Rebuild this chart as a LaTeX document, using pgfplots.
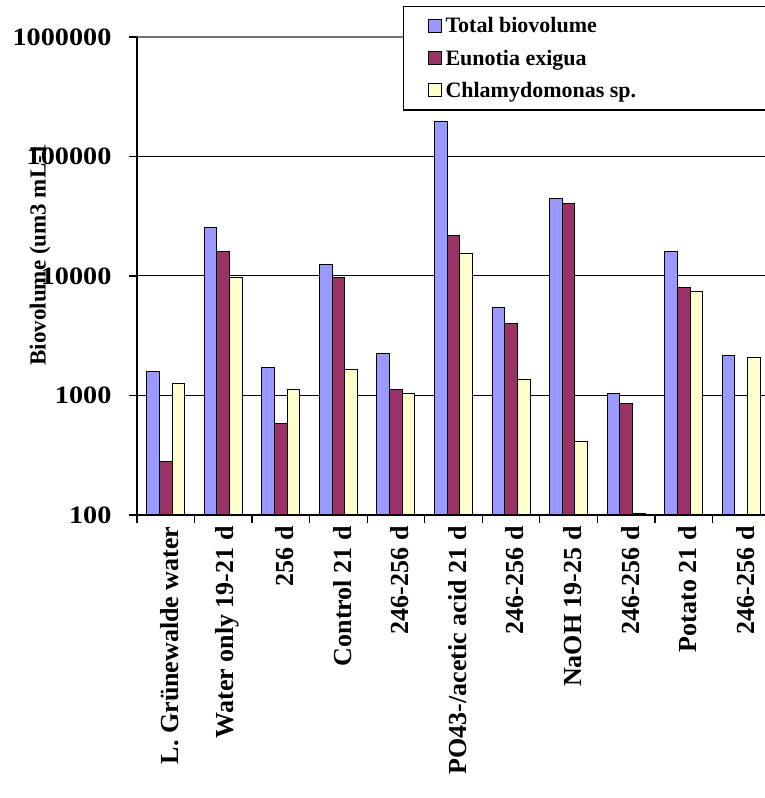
\documentclass[border=0pt]{standalone}
\usepackage{pgfplots}
\pgfplotsset{compat=1.18}
\usepackage{fontspec}
\setmainfont{Liberation Serif}
\definecolor{cTot}{HTML}{9999FF}
\definecolor{cEun}{HTML}{993366}
\definecolor{cChl}{HTML}{FFFFCC}
\begin{document}
\begin{tikzpicture}[x=1pt,y=1pt]
\useasboundingbox (-137,-283) rectangle (628,515);
\clip (-137,-283) rectangle (628,515);
\begin{axis}[
  axis on top,
  at={(0,0)}, anchor=south west,
  scale only axis, width=633pt, height=478pt,
  ymode=log, ymin=100, ymax=1000000,
  xmin=-0.5, xmax=10.5,
  ybar=0pt, bar width=0.22,
  ytick={100,1000,10000,100000,1000000},
  yticklabels={100,1000,10000,100000,1000000},
  yminorticks=false,
  xtick={-0.5,0.5,...,10.5},
  x tick label as interval,
  xticklabels={L. Grünewalde water, Water only 19-21 d, 256 d, Control 21 d, 246-256 d, PO43-/acetic acid 21 d, 246-256 d, NaOH 19-25 d, 246-256 d, Potato 21 d, 246-256 d},
  xticklabel style={rotate=90, anchor=east, font=\fontsize{26}{30}\selectfont\bfseries, yshift=-4pt},
  yticklabel style={font=\fontsize{25}{30}\selectfont\bfseries, xscale=1.13, xshift=-12pt},
  /pgf/number format/assume math mode=true,
  tick align=outside, major tick length=8pt,
  tick style={black, line width=1.3pt},
  axis x line*=bottom, axis y line*=left,
  axis line style={black, line width=1.6pt, -},
  ylabel={Biovolume (um3 mL-1},
  ylabel style={at={(axis description cs:-0.153,0.544)}, anchor=center, font=\fontsize{23}{28}\selectfont\bfseries},
  legend image code/.code={\path[draw=none,fill=none] (0pt,0pt) -- (34pt,0pt);\draw[#1, line width=1pt] (19pt,-6.5pt) rectangle (32pt,6.5pt);},
  legend cell align=left,
  legend style={at={(0.42,1.065)}, anchor=north west, draw=black, line width=1.3pt, fill=white,
    font=\fontsize{22}{26}\selectfont\bfseries, inner xsep=6pt, inner ysep=9pt, row sep=11.5pt,
    /tikz/every odd column/.style={column sep=0pt}},
]
\pgfplotsinvokeforeach{1000,10000,100000}{
  \draw[black, line width=1pt] (axis cs:-0.5,#1) -- (axis cs:10.5,#1);
}
\draw[black!55, line width=1.4pt] (axis cs:-0.5,1000000) -- (axis cs:10.5,1000000);
\addplot[fill=cTot, draw=black, line width=1pt] coordinates {
 (0,1580) (1,25700) (2,1730) (3,12400) (4,2240) (5,198000) (6,5430) (7,44100) (8,1036) (9,15960) (10,2170)};
\addplot[fill=cEun, draw=black, line width=1pt] coordinates {
 (0,279) (1,15960) (2,585) (3,9800) (4,1112) (5,22000) (6,4020) (7,40800) (8,860) (9,7980)};
\addplot[fill=cChl, draw=black, line width=1pt] coordinates {
 (0,1256) (1,9800) (2,1119) (3,1657) (4,1036) (5,15490) (6,1356) (7,414) (8,103) (9,7450) (10,2089)};
\legend{Total biovolume\hspace*{6cm}, Eunotia exigua, Chlamydomonas sp.}
\end{axis}
\end{tikzpicture}
\end{document}
